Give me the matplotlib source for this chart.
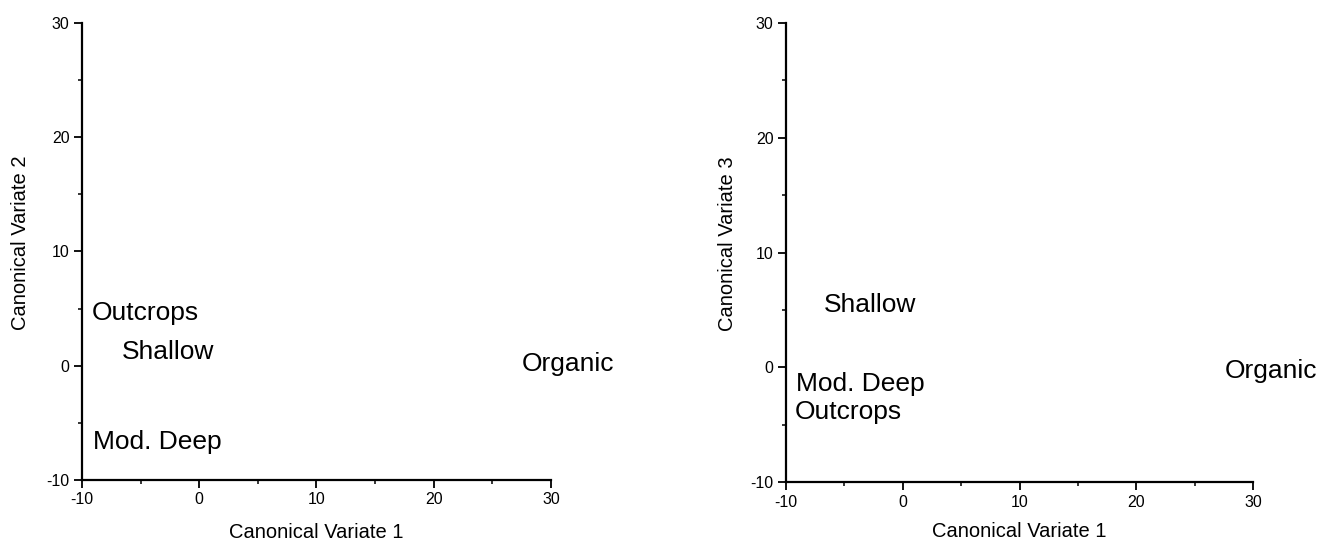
import matplotlib
matplotlib.use("Agg")
import matplotlib.pyplot as plt
from matplotlib.ticker import MultipleLocator

plt.rcParams["font.family"] = ["Liberation Sans", "DejaVu Sans"]
plt.rcParams["axes.unicode_minus"] = False

# Group centroids on the canonical variates (label anchor = left edge of text)
groups = ["Outcrops", "Shallow", "Organic", "Mod. Deep"]
cv1 = [-9.15, -6.6, 27.5, -9.05]
cv2 = [4.6, 1.2, 0.15, -6.7]

groups_b = ["Shallow", "Mod. Deep", "Outcrops", "Organic"]
cv1_b = [-6.8, -9.15, -9.25, 27.6]
cv3_b = [5.4, -1.45, -3.9, -0.35]

xlim = (-10, 30)
ylim = (-10, 30)
major_ticks = [-10, 0, 10, 20, 30]

fig = plt.figure(figsize=(13.18, 5.41), dpi=100)
ax1 = fig.add_axes([0.0622, 0.1128, 0.3558, 0.8447])
ax2 = fig.add_axes([0.5964, 0.1090, 0.3543, 0.8484])


def style_axis(ax, ylabel, xpad, ypad):
    ax.set_xlim(*xlim)
    ax.set_ylim(*ylim)
    ax.set_xticks(major_ticks)
    ax.set_yticks(major_ticks)
    ax.xaxis.set_minor_locator(MultipleLocator(5))
    ax.yaxis.set_minor_locator(MultipleLocator(5))
    for side in ("top", "right"):
        ax.spines[side].set_visible(False)
    for side in ("left", "bottom"):
        ax.spines[side].set_linewidth(1.6)
    ax.tick_params(which="major", direction="out", length=6, width=1.3,
                   labelsize=11.5, pad=3)
    ax.tick_params(which="minor", direction="out", length=3, width=1.1)
    ax.set_xlabel("Canonical Variate 1", fontsize=14.5, labelpad=xpad)
    ax.set_ylabel(ylabel, fontsize=14.5, labelpad=ypad)
    ax.yaxis.label.set_y(0.52)


style_axis(ax1, "Canonical Variate 2", 11, 12)
for name, x, y in zip(groups, cv1, cv2):
    ax1.text(x, y, name, fontsize=19, ha="left", va="center", clip_on=False)

style_axis(ax2, "Canonical Variate 3", 9, 10)
for name, x, y in zip(groups_b, cv1_b, cv3_b):
    ax2.text(x, y, name, fontsize=19, ha="left", va="center", clip_on=False)

fig.savefig("out.png", dpi=100)
